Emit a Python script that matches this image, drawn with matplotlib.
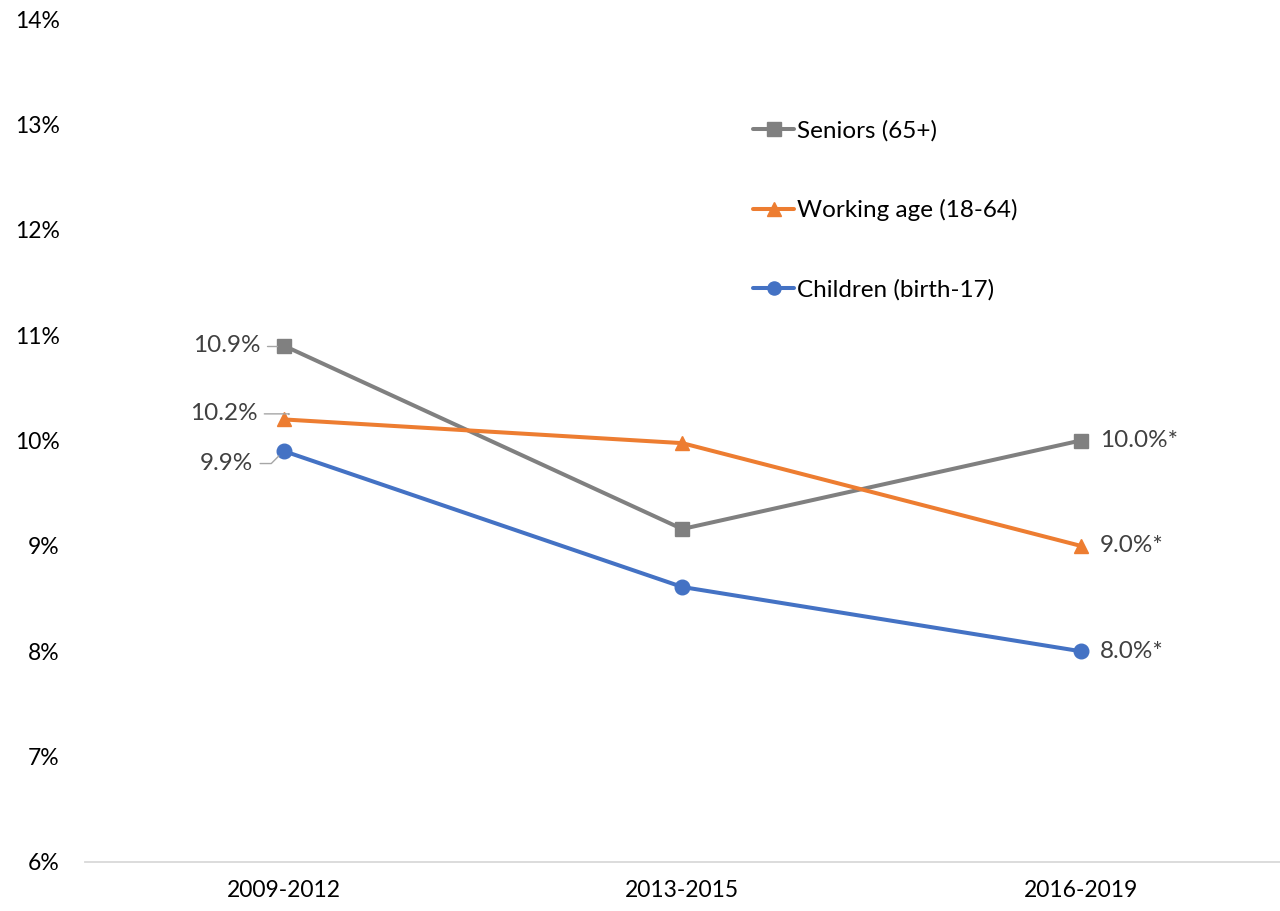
import matplotlib
matplotlib.use("Agg")
import matplotlib.pyplot as plt
from matplotlib.ticker import FuncFormatter

plt.rcParams['font.family'] = ['Lato', 'DejaVu Sans']

periods = ['2009-2012', '2013-2015', '2016-2019']
seniors = [10.9, 9.16, 10.0]
working = [10.2, 9.975, 9.0]
children = [9.9, 8.61, 8.0]

series = [
    ('Seniors (65+)', seniors, '#808080', 's'),
    ('Working age (18-64)', working, '#ED7D31', '^'),
    ('Children (birth-17)', children, '#4472C4', 'o'),
]

fig = plt.figure(figsize=(12.8, 9.11), dpi=100)
ax = fig.add_axes([84.5 / 1280, 1 - 862 / 911, 1 - 84.5 / 1280, (862 - 19) / 911])

x = list(range(len(periods)))
for name, vals, color, marker in series:
    ax.plot(x, vals, color=color, lw=2.9, marker=marker, ms=10.5,
            label=name, solid_capstyle='round')

ax.set_xlim(-0.5, 2.5)
ax.set_ylim(6, 14)
ax.set_yticks(range(6, 15))
ax.yaxis.set_major_formatter(FuncFormatter(lambda v, p: f'{v:.0f}%'))
ax.set_xticks(x)
ax.set_xticklabels(periods)
ax.tick_params(axis='both', length=0, labelsize=16.5, colors='#000000')
ax.tick_params(axis='y', pad=18)
ax.tick_params(axis='x', pad=13)

for side in ['top', 'right', 'left']:
    ax.spines[side].set_visible(False)
ax.spines['bottom'].set_color('#d9d9d9')
ax.spines['bottom'].set_linewidth(1.3)

label_color = '#404040'
# first-period labels with short leader lines
left_offsets = [(-17, 0), (-19, 4), (-22, -9)]
for (name, vals, color, marker), off in zip(series, left_offsets):
    ax.annotate(f'{vals[0]:.1f}%', xy=(0, vals[0]), xytext=off,
                textcoords='offset points', ha='right', va='center',
                fontsize=17.5, color=label_color,
                arrowprops=dict(arrowstyle='-', color='#a6a6a6', lw=1,
                                shrinkA=3, shrinkB=5,
                                connectionstyle='angle,angleA=0,angleB=45,rad=0'))

# last-period labels
for name, vals, color, marker in series:
    ax.annotate(f'{vals[-1]:.1f}%*', xy=(2, vals[-1]), xytext=(14, 0),
                textcoords='offset points', ha='left', va='center',
                fontsize=17.5, color=label_color)

ax.legend(loc='upper left', bbox_to_anchor=(753 / 1280, 1 - 120 / 911),
          bbox_transform=fig.transFigure, frameon=False, fontsize=17.5,
          handlelength=1.7, handletextpad=0.1, labelspacing=2.38,
          borderpad=0, borderaxespad=0, markerscale=0.9)

fig.savefig('out.png', dpi=100)
